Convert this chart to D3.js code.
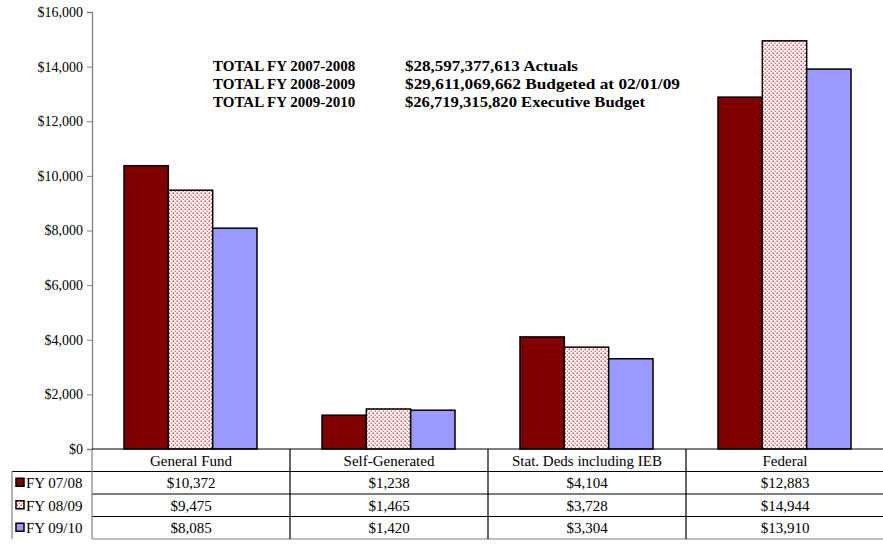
<!DOCTYPE html>
<html>
<head>
<meta charset="utf-8">
<script src="https://cdn.jsdelivr.net/npm/d3@7"></script>
<style>
  body { margin: 0; background: #fff; }
  svg { display: block; font-family: "Liberation Serif", "DejaVu Serif", serif; }
</style>
</head>
<body>
<div id="chart"></div>
<script>
// Данные
const categories = ["General Fund", "Self-Generated", "Stat. Deds including IEB", "Federal"];
const seriesNames = ["FY 07/08", "FY 08/09", "FY 09/10"];
const fy0708 = [10372, 1238, 4104, 12883];
const fy0809 = [9475, 1465, 3728, 14944];
const fy0910 = [8085, 1420, 3304, 13910];
const yTicks = [0, 2000, 4000, 6000, 8000, 10000, 12000, 14000, 16000];
const totalLabels = ["TOTAL FY 2007-2008", "TOTAL FY 2008-2009", "TOTAL FY 2009-2010"];
const totalValues = ["$28,597,377,613 Actuals", "$29,611,069,662 Budgeted at 02/01/09", "$26,719,315,820 Executive Budget"];

const seriesValues = [fy0708, fy0809, fy0910];
const fills = ["#800000", "url(#dots)", "#9999ff"];

const width = 883, height = 544;
const margin = {top: 12, left: 92, right: -1, bottom: 95};
const plotBottom = height - margin.bottom;

const svg = d3.select("#chart").append("svg")
    .attr("width", width)
    .attr("height", height);

// Узор с точками
const pat = svg.append("defs").append("pattern")
    .attr("id", "dots")
    .attr("width", 4).attr("height", 4)
    .attr("patternUnits", "userSpaceOnUse");
pat.append("rect").attr("width", 4).attr("height", 4).attr("fill", "#fff");
pat.append("rect").attr("x", 0.5).attr("y", 0.5).attr("width", 1.5).attr("height", 1.5).attr("fill", "#e63c3c");
pat.append("rect").attr("x", 2.5).attr("y", 2.5).attr("width", 1.5).attr("height", 1.5).attr("fill", "#f07a7a");

// Шкалы
const x0 = d3.scaleBand().domain(categories).range([margin.left, width - margin.right]);
const x1 = d3.scaleBand().domain(seriesNames).range([32, x0.bandwidth() - 33]);
const y = d3.scaleLinear().domain([0, 16000]).range([plotBottom, margin.top]);

// Ось Y
const yAxis = svg.append("g")
    .attr("transform", `translate(${margin.left},0)`)
    .call(d3.axisLeft(y).tickValues(yTicks).tickSize(5).tickFormat(d => "$" + d3.format(",")(d)));
yAxis.select(".domain").attr("stroke", "#808080").attr("stroke-width", 1.3);
yAxis.selectAll(".tick line").attr("stroke", "#808080");
yAxis.selectAll(".tick text").attr("font-size", 14).attr("font-family", "Liberation Serif").attr("fill", "#000").attr("x", -9);

// Столбцы
seriesNames.forEach((s, si) => {
    svg.append("g").selectAll("rect")
        .data(seriesValues[si])
        .join("rect")
        .attr("x", (d, i) => x0(categories[i]) + x1(s))
        .attr("y", d => y(d))
        .attr("width", x1.bandwidth())
        .attr("height", d => plotBottom - y(d))
        .attr("fill", fills[si])
        .attr("stroke", "#000")
        .attr("stroke-width", 1.5);
});

// Итоги
const totalWidths = [173, 275, 240];
const totals = svg.append("g").attr("font-size", 15).attr("font-weight", "bold");
totalLabels.forEach((t, i) => {
    totals.append("text").attr("x", 213).attr("y", 71 + i * 18).text(t);
    totals.append("text").attr("x", 405).attr("y", 71 + i * 18)
        .attr("textLength", totalWidths[i]).attr("lengthAdjust", "spacingAndGlyphs")
        .text(totalValues[i]);
});

// Таблица данных
const rowY = d3.scaleBand().domain(["header"].concat(seriesNames)).range([plotBottom, 539]);
const table = svg.append("g").attr("font-size", 15);
const tableLeft = 12;

// горизонтальные линии
rowY.domain().forEach((r, i) => {
    const yy = rowY(r) + rowY.bandwidth();
    table.append("line")
        .attr("x1", i === 0 ? tableLeft : margin.left).attr("x2", width)
        .attr("y1", yy).attr("y2", yy)
        .attr("stroke", i === 3 ? "#808080" : "#000").attr("stroke-width", 1.2);
});
table.append("line")
    .attr("x1", margin.left).attr("x2", width)
    .attr("y1", plotBottom).attr("y2", plotBottom)
    .attr("stroke", "#000").attr("stroke-width", 1.2);
// вертикальные линии
categories.forEach(c => {
    table.append("line")
        .attr("x1", x0(c)).attr("x2", x0(c))
        .attr("y1", plotBottom).attr("y2", 539)
        .attr("stroke", x0(c) === margin.left ? "#808080" : "#000").attr("stroke-width", 1.2);
});
table.append("line")
    .attr("x1", tableLeft).attr("x2", tableLeft)
    .attr("y1", rowY("FY 07/08")).attr("y2", 539)
    .attr("stroke", "#808080").attr("stroke-width", 1.2);

// заголовки категорий
categories.forEach(c => {
    table.append("text")
        .attr("x", x0(c) + x0.bandwidth() / 2)
        .attr("y", rowY("header") + rowY.bandwidth() / 2)
        .attr("dy", "0.35em")
        .attr("text-anchor", "middle")
        .text(c);
});

// строки
seriesNames.forEach((s, si) => {
    const cy = rowY(s) + rowY.bandwidth() / 2;
    table.append("rect")
        .attr("x", 16).attr("y", cy - 4.5)
        .attr("width", 8).attr("height", 8)
        .attr("fill", fills[si]).attr("stroke", "#000").attr("stroke-width", 1.5);
    table.append("text")
        .attr("x", 26).attr("y", cy).attr("dy", "0.35em")
        .text(s);
    seriesValues[si].forEach((v, i) => {
        table.append("text")
            .attr("x", x0(categories[i]) + x0.bandwidth() / 2)
            .attr("y", cy).attr("dy", "0.35em")
            .attr("text-anchor", "middle")
            .text("$" + d3.format(",")(v));
    });
});
</script>
</body>
</html>
